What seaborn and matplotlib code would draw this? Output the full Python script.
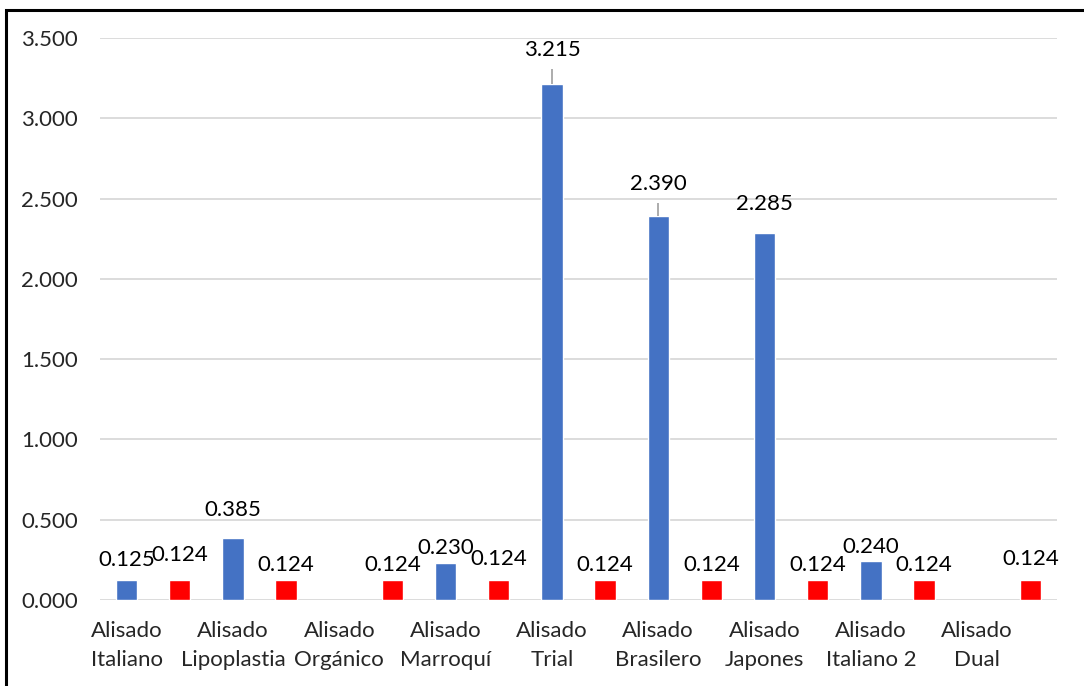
import numpy as np
import pandas as pd
import seaborn as sns
import matplotlib
matplotlib.use("Agg")
import matplotlib.pyplot as plt
from matplotlib.patches import Rectangle

# Treatment names (two-line tick labels)
categories = [
    "Alisado\nItaliano", "Alisado\nLipoplastia", "Alisado\nOrgánico",
    "Alisado\nMarroquí", "Alisado\nTrial", "Alisado\nBrasilero",
    "Alisado\nJapones", "Alisado\nItaliano 2", "Alisado\nDual",
]
# Measured series (None = no measurement)
measured = [0.125, 0.385, None, 0.230, 3.215, 2.390, 2.285, 0.240, None]
# Reference series
reference = [0.124] * 9
# Upper error for the measured series
measured_err = [0, 0, 0, 0, 0.09, 0.08, 0, 0, 0]
y_ticks = [0, 0.5, 1.0, 1.5, 2.0, 2.5, 3.0, 3.5]

BLUE = "#4472C4"
RED = "#FF0000"
GRID = "#D9D9D9"
FONT = "Lato"
FS = 16

sns.set_theme(style="white")
plt.rcParams["font.family"] = [FONT, "DejaVu Sans"]

idx = np.arange(len(categories))
blue_df = pd.DataFrame({"x": idx - 0.25, "y": measured}).dropna()
red_df = pd.DataFrame({"x": idx + 0.25, "y": reference})

fig = plt.figure(figsize=(10.84, 6.86), dpi=100)
ax = fig.add_axes([100 / 1084, 86 / 686, 957 / 1084, 562 / 686])

sns.barplot(data=blue_df, x="x", y="y", native_scale=True, width=0.2,
            color=BLUE, saturation=1, ax=ax, errorbar=None)
sns.barplot(data=red_df, x="x", y="y", native_scale=True, width=0.2,
            color=RED, saturation=1, ax=ax, errorbar=None)

# Plus-only error bars on the measured series
for i, (v, e) in enumerate(zip(measured, measured_err)):
    if v is not None and e > 0:
        ax.errorbar(i - 0.25, v, yerr=[[0], [e]], fmt="none",
                    ecolor="#A6A6A6", elinewidth=1.3, capsize=0, zorder=1)

# Value labels: lift above the bar top in points
blue_lift = [7, 13, None, 4, 17, 16, 14, 3, None]
red_lift = [11, 4, 4, 8, 4, 4, 4, 4, 8]
for i, v in enumerate(measured):
    if v is not None:
        ax.annotate(f"{v:.3f}", (i - 0.25, v), xytext=(0, blue_lift[i]),
                    textcoords="offset points", ha="center", va="bottom",
                    fontsize=FS, color="black")
for i, v in enumerate(reference):
    ax.annotate(f"{v:.3f}", (i + 0.25, v), xytext=(0, red_lift[i]),
                textcoords="offset points", ha="center", va="bottom",
                fontsize=FS, color="black")

ax.set_xlim(-0.5, len(categories) - 0.5)
ax.set_ylim(0, 3.5)
ax.set_yticks(y_ticks)
ax.set_yticklabels([f"{t:.3f}" for t in y_ticks], fontsize=FS)
ax.set_xticks(idx - 0.25)
ax.set_xticklabels(categories, fontsize=FS, linespacing=1.6)
ax.tick_params(axis="both", length=0)
ax.tick_params(axis="y", pad=16)
ax.tick_params(axis="x", pad=15)
ax.set_xlabel("")
ax.set_ylabel("")
ax.yaxis.grid(True, color=GRID, linewidth=1.3)
ax.set_axisbelow(True)
for s in ax.spines.values():
    s.set_visible(False)

# Outer chart frame
fig.patches.append(Rectangle((6 / 1084, -0.1), 2.0, 1 - 10 / 686 + 0.1,
                             transform=fig.transFigure, fill=False,
                             edgecolor="black", linewidth=2.2))

fig.savefig("out.png", dpi=100)
